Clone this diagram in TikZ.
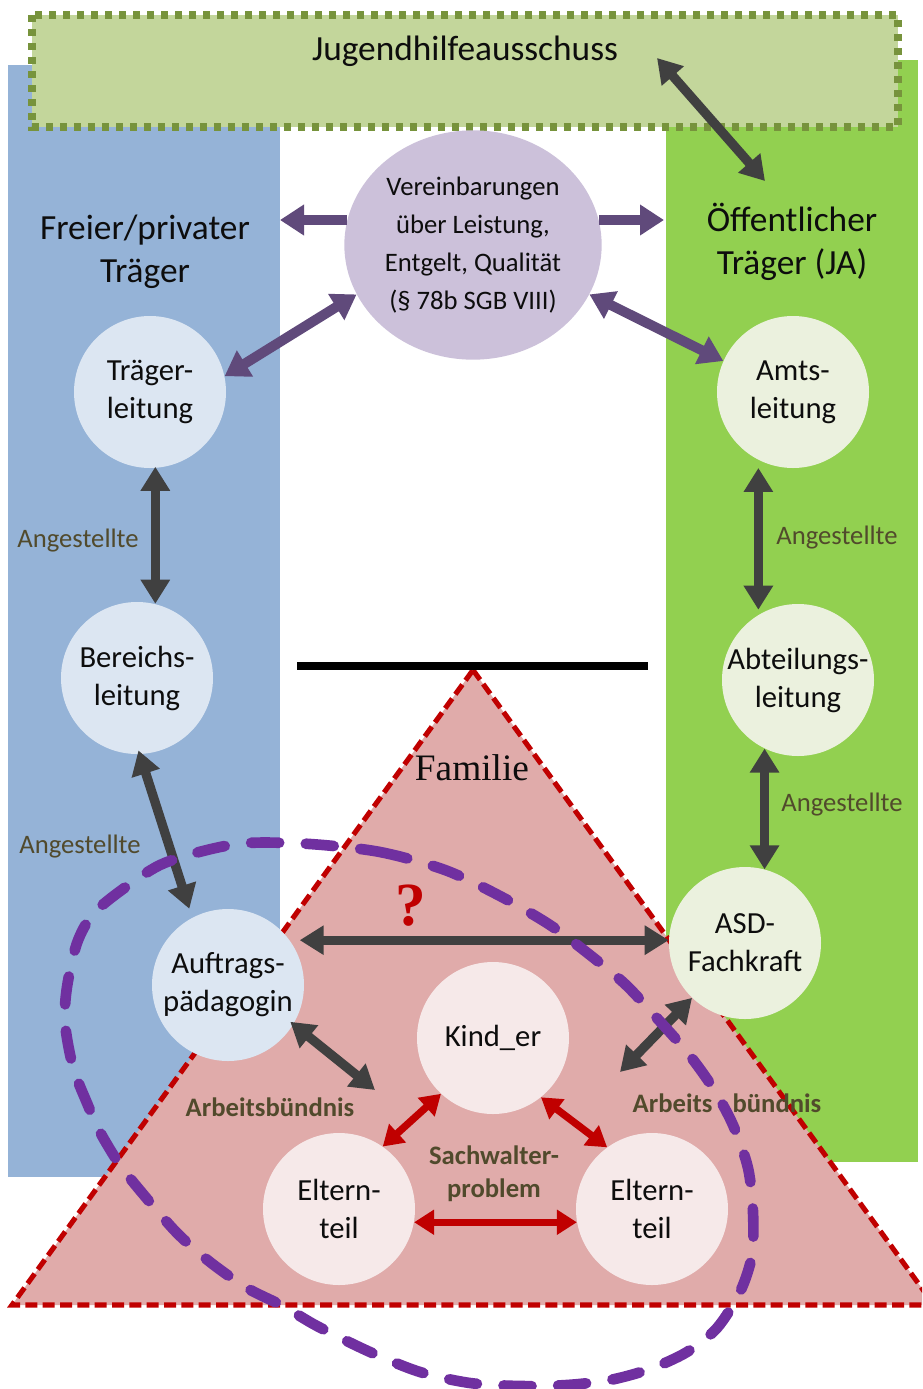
\documentclass[tikz,border=0pt]{standalone}
\usepackage{fontspec}
\setmainfont{Carlito}
\newfontfamily\seriffont{Liberation Serif}
\usetikzlibrary{arrows.meta,calc,shapes.geometric}
\definecolor{blueb}{HTML}{95B3D7}
\definecolor{greenb}{HTML}{92D050}
\definecolor{topfill}{HTML}{C3D69B}
\definecolor{topdraw}{HTML}{77933C}
\definecolor{lblue}{HTML}{DCE6F2}
\definecolor{lgreen}{HTML}{EBF1DE}
\definecolor{lpurple}{HTML}{CCC1DA}
\definecolor{trifill}{HTML}{E0ABAA}
\definecolor{lpink}{HTML}{F6E9E9}
\definecolor{redd}{HTML}{C00000}
\definecolor{dgray}{HTML}{404040}
\definecolor{parrowc}{HTML}{604A7B}
\definecolor{ploop}{HTML}{7030A0}
\definecolor{labc}{HTML}{514A2C}
\definecolor{txt}{HTML}{0D0D0D}
\begin{document}
\begin{tikzpicture}[x=0.75pt,y=-0.75pt,
  circb/.style={circle, minimum size=114pt, inner sep=0pt, fill=lblue},
  circg/.style={circle, minimum size=114pt, inner sep=0pt, fill=lgreen},
  circp/.style={circle, minimum size=114pt, inner sep=0pt, fill=lpink},
  ctxt/.style={align=center, text=txt, font=\fontsize{23}{28.5}\selectfont, inner sep=0pt},
  vtxt/.style={align=center, text=txt, font=\fontsize{20}{28.5}\selectfont, inner sep=0pt},
  bigtxt/.style={align=center, text=txt, font=\fontsize{26.5}{32.5}\selectfont, inner sep=0pt},
  lab/.style={text=labc, font=\fontsize{20}{25}\selectfont, inner sep=0pt, align=center},
  blab/.style={text=labc, font=\fontsize{20}{25}\selectfont\bfseries, inner sep=0pt, align=center},
  garr/.style={draw=dgray, line width=7pt, arrows={Triangle[length=18pt,width=21pt]-Triangle[length=18pt,width=21pt]}},
  parr/.style={draw=parrowc, line width=7.5pt, arrows={Triangle[length=18pt,width=22pt]-Triangle[length=18pt,width=22pt]}},
  parro/.style={draw=parrowc, line width=7.5pt, arrows={-Triangle[length=18pt,width=22pt]}},
  rarr/.style={draw=redd, line width=5.5pt, arrows={Triangle[length=15pt,width=18pt]-Triangle[length=15pt,width=18pt]}},
  topbox/.style={fill=topfill, draw=topdraw, line width=6.5pt, dash pattern=on 5.5pt off 5pt},
  tri/.style={fill=trifill, draw=redd, line width=3.8pt, dash pattern=on 9pt off 4pt},
  loop/.style={draw=ploop, line width=8pt, line cap=round, dash pattern=on 21pt off 20pt}
]
\useasboundingbox (0,0) rectangle (922,1389);
\clip (0,0) rectangle (922,1389);
% columns
\fill[blueb] (8,65) rectangle (280,1177);
\fill[greenb] (666,60) rectangle (918,1162);
% top box
\draw[topbox] (32,15) rectangle (898,127);
\node[bigtxt] (jt) at (465,51) {Jugendhilfeausschuss};
% column titles
\node[bigtxt] (frei) at (145,252) {Freier/privater\\Träger};
\node[bigtxt] (oeff) at (792,242) {Öffentlicher\\Träger (JA)};
% family triangle
\draw[tri] (473,670) -- (934,1305) -- (12,1305) -- cycle;
\draw[line width=6.5pt] (297,666) -- (648,666);
\node[text=txt, font=\seriffont\fontsize{28}{30}\selectfont, inner sep=0pt] (fam) at (472,768) {Familie};
\node[text=redd, font=\seriffont\bfseries\fontsize{46}{48}\selectfont, inner sep=0pt] (qm) at (411,906) {?};
% free ends
\coordinate (ja) at (657,58);
\coordinate (jb) at (765,181);
\coordinate (pl) at (280,220);
\coordinate (pr) at (664,220);
\coordinate (arbl) at (375,1090);
\coordinate (arbr) at (620,1072);
% agreement ellipse
\node[ellipse, fill=lpurple, minimum width=193pt, minimum height=172pt, inner sep=0pt,
  label={[vtxt]center:{Vereinbarungen\\über Leistung,\\Entgelt, Qualität\\(§ 78b SGB VIII)}}] (ver) at (473,245) {};
% horizontal purple arrows
\draw[parro, shorten <=-2pt] (pl -| ver.west) -- (pl);
\draw[parro, shorten <=-2pt] (pr -| ver.east) -- (pr);
% circles
\node[circb, label={[ctxt]center:{Träger-\\leitung}}] (tl) at (150,392) {};
\node[circb, label={[ctxt]center:{Bereichs-\\leitung}}] (bl) at (137,678) {};
\node[circb, label={[ctxt]center:{Auftrags-\\pädagogin}}] (ap) at (228,985) {};
\node[circg, label={[ctxt]center:{Amts-\\leitung}}] (al) at (793,392) {};
\node[circg, label={[ctxt]center:{Abteilungs-\\leitung}}] (abt) at (798,680) {};
\node[circg, label={[ctxt]center:{ASD-\\Fachkraft}}] (asd) at (745,943) {};
\node[circp, label={[ctxt]center:{Kind\_er}}] (kind) at (493,1038) {};
\node[circp, label={[ctxt]center:{Eltern-\\teil}}] (el) at (339,1209) {};
\node[circp, label={[ctxt]center:{Eltern-\\teil}}] (er) at (652,1209) {};
% purple arrows
\draw[parr] (ver.203) -- (tl.12);
\draw[parr] (ver.-23) -- (al.156);
% gray arrows
\draw[garr] (ja) -- (jb);
\draw[garr, shorten <=-1pt, shorten >=-1.5pt] (tl.-86) -- (tl.-86 |- bl.north);
\draw[garr, shorten <=-3pt, shorten >=7pt] (bl.-88) -- (ap.118);
\draw[garr, shorten <=6pt, shorten >=-4.5pt] (al.-117) -- (al.-117 |- abt.north);
\draw[garr, shorten >=-2pt] (abt.-116) -- (abt.-116 |- asd.north);
\draw[garr, shorten <=7.5pt] (ap.36) -- (ap.36 -| asd.west);
\draw[garr, shorten <=-3pt] (ap.-31) -- (arbl);
\draw[garr] (asd.226) -- (arbr);
% red arrows
\draw[rarr] (kind.-133) -- (el.55);
\draw[rarr] (kind.-51) -- (er.126);
\draw[rarr] (el.-10) -- (er.190);
% purple dashed loop
\draw[loop] plot[smooth cycle] coordinates {(310,844) (380,852) (445,870) (500,896) (550,925) (590,955) (625,984) (655,1016) (687,1052) (713,1088) (733,1125) (748,1168) (753,1212) (752,1255) (740,1292) (717,1328) (687,1352) (650,1369) (610,1380) (567,1385) (520,1386) (470,1383) (420,1372) (370,1352) (317,1326) (283,1306) (247,1288) (210,1262) (177,1233) (143,1194) (120,1165) (100,1132) (87,1103) (73,1067) (65,1023) (67,987) (77,943) (93,914) (123,889) (160,865) (203,851) (247,843)};
% labels
\node[lab] (ang1) at (78,541) {Angestellte};
\node[lab] (ang2) at (80,847) {Angestellte};
\node[lab] (ang3) at (837,538) {Angestellte};
\node[lab] (ang4) at (842,805) {Angestellte};
\node[blab] (ab1) at (270,1107) {Arbeitsbündnis};
\node[blab] (ab2) at (727,1103) {Arbeits\hspace{15pt}bündnis};
\node[blab] (sw) at (494,1174) {Sachwalter-\\problem};
\end{tikzpicture}
\end{document}
